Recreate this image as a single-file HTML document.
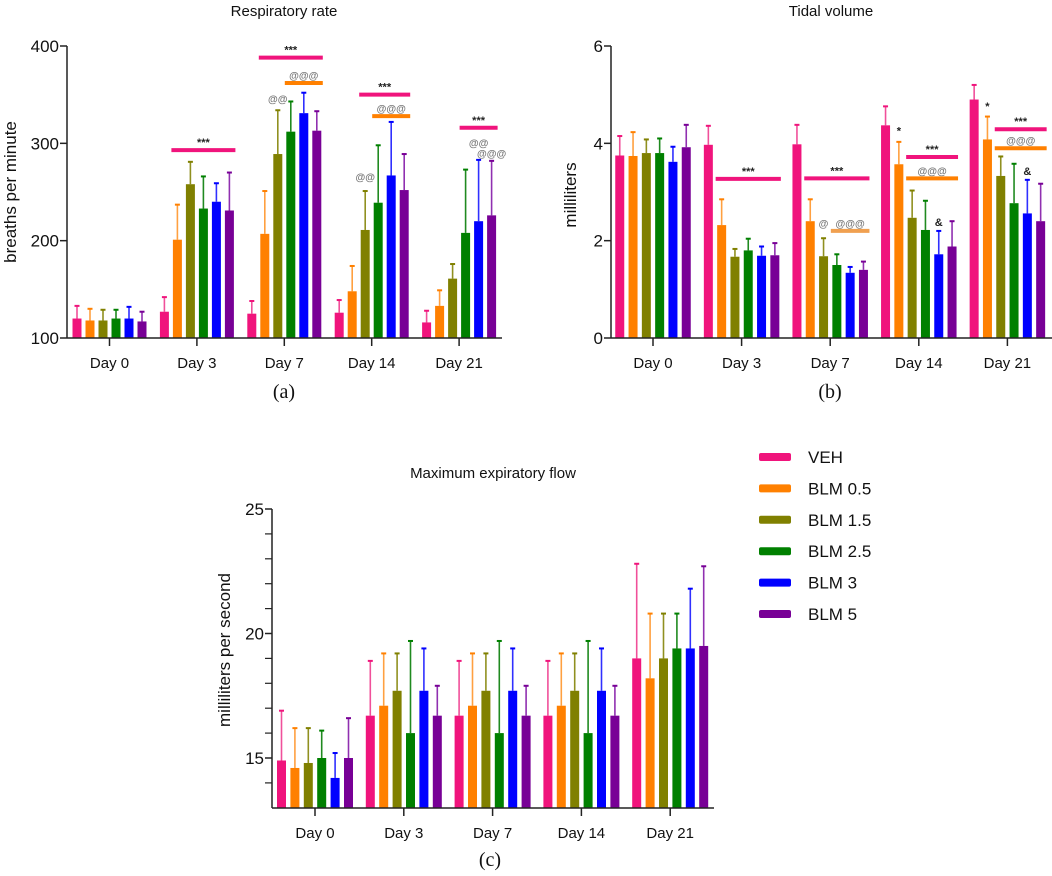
<!DOCTYPE html>
<html><head><meta charset="utf-8"><style>
body{margin:0;background:#fff}
svg{display:block;font-family:"Liberation Sans",Arial,sans-serif}
</style></head><body>
<svg id="s" width="1052" height="876" viewBox="0 0 1052 876" xmlns="http://www.w3.org/2000/svg"></svg>
<script>
const categories = ["Day 0","Day 3","Day 7","Day 14","Day 21"];
const seriesNames = ["VEH","BLM 0.5","BLM 1.5","BLM 2.5","BLM 3","BLM 5"];
const colors = ["#f0147c","#ff8000","#808000","#008000","#0000ff","#780096"];
const errColors = ["#f0509a","#ffa040","#909020","#208a20","#3030ff","#9030b0"];

// (a) Respiratory rate
const rrVals = [[120,127,125,126,116],[118,201,207,148,133],[118,258,289,211,161],[120,233,312,239,208],[120,240,331,267,220],[117,231,313,252,226]];
const rrErr = [[133,142,138,139,128],[130,237,251,174,149],[129,281,334,251,176],[129,266,343,298,273],[132,259,352,322,283],[127,270,333,289,282]];
const rrTicks = [100,200,300,400];
// (b) Tidal volume
const tvVals = [[3.75,3.97,3.98,4.37,4.9],[3.74,2.32,2.4,3.57,4.08],[3.8,1.67,1.68,2.47,3.33],[3.8,1.8,1.5,2.22,2.77],[3.62,1.69,1.34,1.72,2.56],[3.92,1.7,1.4,1.88,2.4]];
const tvErr = [[4.15,4.36,4.38,4.76,5.2],[4.23,2.85,2.85,4.03,4.55],[4.08,1.83,2.05,3.03,3.73],[4.1,2.04,1.72,2.82,3.58],[3.93,1.88,1.46,2.2,3.25],[4.38,1.95,1.57,2.4,3.17]];
const tvTicks = [0,2,4,6];
// (c) Maximum expiratory flow
const mefVals = [[14.9,16.7,16.7,16.7,19.0],[14.6,17.1,17.1,17.1,18.2],[14.8,17.7,17.7,17.7,19.0],[15.0,16.0,16.0,16.0,19.4],[14.2,17.7,17.7,17.7,19.4],[15.0,16.7,16.7,16.7,19.5]];
const mefErr = [[16.9,18.9,18.9,18.9,22.8],[16.2,19.2,19.2,19.2,20.8],[16.2,19.2,19.2,19.2,20.8],[16.1,19.7,19.7,19.7,20.8],[15.2,19.4,19.4,19.4,21.8],[16.6,17.9,17.9,17.9,22.7]];
const mefTicks = [15,20,25];
const mefMinor = [14,16,17,18,19,21,22,23,24];

// annotations: [group, fromBar, toBar, value, colorIdx, label]
const rrAnn = [[1,1,5,293,0,"***"],[2,1,5,388,0,"***"],[2,3,5,362,1,"@@@"],[3,2,5,350,0,"***"],[3,3,5,328,1,"@@@"],[4,3,5,316,0,"***"]];
const tvAnn = [[1,1,5,3.27,0,"***"],[2,1,5,3.28,0,"***"],[2,3,5,2.2,6,"@@@"],[3,2,5,3.72,0,"***"],[3,2,5,3.28,1,"@@@"],[4,2,5,4.29,0,"***"],[4,2,5,3.9,1,"@@@"]];

const NS="http://www.w3.org/2000/svg";
const svg=document.getElementById('s');
function mk(tag,attrs,parent,text){const e=document.createElementNS(NS,tag);for(const k in attrs)e.setAttribute(k,attrs[k]);if(text!==undefined)e.textContent=text;(parent||svg).appendChild(e);return e;}

function chart(o){
  const g=mk('g',{});
  
  
  const yb=o.yb||o.y0;
  const y=v=>o.y0-(v-o.vmin)*(o.y0-o.y1)/(o.vmax-o.vmin);
  const gx=i=>o.gc0+i*o.gs;
  const bx=(i,j)=>gx(i)+(j-2.5)*o.bs;
  for(let j=0;j<6;j++)for(let i=0;i<5;i++){
    const v=o.vals[j][i],e=o.err[j][i],X=bx(i,j);
    const el=mk('line',{x1:X,x2:X,y1:y(v),y2:y(e),stroke:errColors[j],'stroke-width':1.6},g);
    
    
    const cap=mk('line',{x1:X-2.5,x2:X+2.5,y1:y(e),y2:y(e),stroke:colors[j],'stroke-width':2},g);
    
    
    const top=Math.min(y(v),yb),h=Math.max(0,yb-y(v));
    const r=mk('rect',{x:X-o.bw/2,y:top,width:o.bw,height:h,fill:colors[j]},g);
    
    
  }
  const ya=mk('line',{x1:o.x0,x2:o.x0,y1:o.y1,y2:yb,stroke:'#222','stroke-width':1.5},g);
  
  
  const xa=mk('line',{x1:o.x0,x2:o.xe,y1:yb,y2:yb,stroke:'#222','stroke-width':1.5},g);
  
  
  o.ticks.forEach(t=>{
    mk('line',{x1:o.x0-7,x2:o.x0,y1:y(t),y2:y(t),stroke:'#222','stroke-width':1.5},g);
    const tl=mk('text',{x:o.x0-8,y:y(t)+6,'text-anchor':'end','font-size':17,fill:'#111'},g,String(t));
    
    
  });
  (o.minor||[]).forEach(t=>mk('line',{x1:o.x0-7,x2:o.x0,y1:y(t),y2:y(t),stroke:'#222','stroke-width':1.2},g));
  categories.forEach((c,i)=>{
    mk('line',{x1:gx(i),x2:gx(i),y1:yb,y2:yb+8,stroke:'#222','stroke-width':1.5},g);
    const tl=mk('text',{x:gx(i),y:yb+30,'text-anchor':'middle','font-size':15,fill:'#111'},g,c);
    
    
  });
  const t=mk('text',{x:o.tx,y:o.ty,'text-anchor':'middle','font-size':15,fill:'#111'},g,o.title);
  
  
  const yl=mk('text',{x:0,y:0,transform:`translate(${o.ylx},${o.yly}) rotate(-90)`,'text-anchor':'middle','font-size':17,fill:'#111'},g,o.ylabel);
  
  
  const cap=mk('text',{x:o.cx,y:o.cy,'text-anchor':'middle','font-size':20,'font-family':'"Liberation Serif",serif',fill:'#111'},g,o.caption);
  
  
  (o.ann||[]).forEach(a=>{
    const col=a[4]===6?'#f0a050':colors[a[4]];
    const x1=bx(a[0],a[1])-6,x2=bx(a[0],a[2])+6,Y=y(a[3]);
    const l=mk('line',{x1,x2,y1:Y,y2:Y,stroke:col,'stroke-width':4},g);
    
    
    const tt=mk('text',{x:(x1+x2)/2,y:Y-4,'text-anchor':'middle','font-size':a[5][0]=='@'?10:11,'font-weight':'bold',fill:a[5][0]=='@'?'#777':'#222'},g,a[5]);
    
    
  });
  (o.marks||[]).forEach(m=>{
    const tt=mk('text',{x:bx(m[0],m[1]),y:y(m[2]),'text-anchor':'middle','font-size':m[3][0]=='@'?10:11,'font-weight':'bold',fill:m[3][0]=='@'?'#777':'#222'},g,m[3]);
    
    
  });
}

chart({name:'respiratory-rate-chart',vals:rrVals,err:rrErr,ticks:rrTicks,vmin:100,vmax:400,x0:67,xe:502,y0:338,y1:46,gc0:109.5,gs:87.4,bs:13,bw:9,
  title:'Respiratory rate',tx:284,ty:16,ylabel:'breaths per minute',ylx:16,yly:192,caption:'(a)',cx:284,cy:398,ann:rrAnn,
  marks:[[2,2,342,"@@"],[3,2,262,"@@"],[4,4,297,"@@"],[4,5,286,"@@@"]]});
chart({name:'tidal-volume-chart',vals:tvVals,err:tvErr,ticks:tvTicks,vmin:0,vmax:6,x0:611,xe:1052,y0:338,y1:46,gc0:653,gs:88.6,bs:13.3,bw:9,
  title:'Tidal volume',tx:831,ty:16,ylabel:'milliliters',ylx:576,yly:195,caption:'(b)',cx:830,cy:398,ann:tvAnn,
  marks:[[3,1,4.18,"*"],[4,1,4.68,"*"],[3,4,2.3,"&"],[4,4,3.35,"&"],[2,2,2.28,"@"]]});
chart({name:'maximum-expiratory-flow-chart',vals:mefVals,err:mefErr,ticks:mefTicks,minor:mefMinor,vmin:15,vmax:25,x0:272,xe:714,y0:758,y1:509,yb:808,
  gc0:315,gs:88.8,bs:13.4,bw:9,
  title:'Maximum expiratory flow',tx:493,ty:478,ylabel:'milliliters per second',ylx:230,yly:650,caption:'(c)',cx:490,cy:866});

(function(){
  const lg=mk('g',{});
  
  
  seriesNames.forEach((n,j)=>{
    const Y=457+j*31.4;
    const r=mk('rect',{x:759,y:Y-4,width:32,height:8,rx:2,fill:colors[j]},lg);
    
    
    const t=mk('text',{x:808,y:Y+6,'font-size':17,fill:'#111'},lg,n);
    
    
  });
})();
</script>
</body></html>
